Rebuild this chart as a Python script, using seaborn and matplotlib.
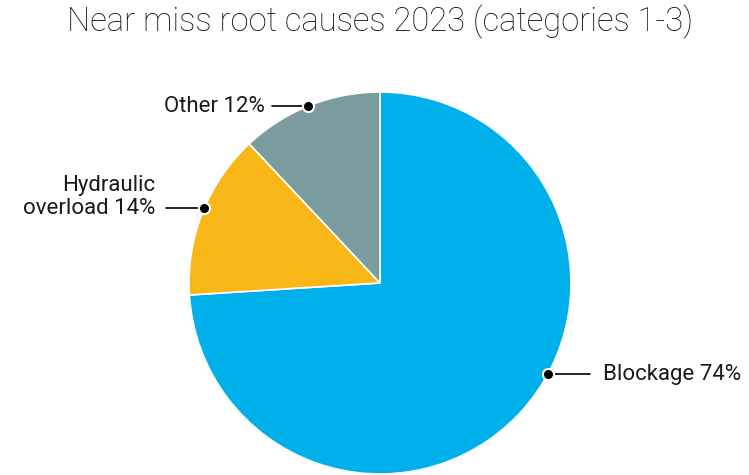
import numpy as np
import matplotlib
matplotlib.use('Agg')
from matplotlib import pyplot as plt
import seaborn as sns

sns.set_theme(style='white')
plt.rcParams['font.family'] = ['Roboto', 'DejaVu Sans']

# data
causes = ['Blockage', 'Hydraulic\noverload', 'Other']
shares = [74, 14, 12]
colors = ['#00B0EA', '#F9B617', '#7A9C9F']
# where the label leader dot sits on the rim (degrees)
label_angles = [-28.6, 156.8, 112.3]

fig = plt.figure(figsize=(7.49, 4.75), dpi=100)
ax = fig.add_axes([189/749, 1/475, 382/749, 382/475])

wedges, _ = ax.pie(shares, colors=colors, startangle=90, counterclock=False,
                   radius=1, wedgeprops=dict(edgecolor='white', linewidth=1.2))
ax.set_xlim(-1, 1)
ax.set_ylim(-1, 1)

# label layout: (line end x, text x, text y offset, ha)
layout = [(1.099, 1.167, 0.0, 'left'),
          (-1.120, -1.178, 0.058, 'right'),
          (-0.565, -0.602, 0.0, 'right')]

for name, val, ang, (lx, tx, dy, ha) in zip(causes, shares, label_angles, layout):
    a = np.deg2rad(ang)
    px, py = np.cos(a), np.sin(a)
    ax.plot([px, lx], [py, py], color='black', lw=1.2, clip_on=False, zorder=3)
    ax.plot(px, py, 'o', ms=8, mfc='black', mec='white', mew=1.5,
            clip_on=False, zorder=4)
    ax.text(tx, py + dy, f'{name} {val}%', ha=ha, va='center', fontsize=16,
            color='#1a1a1a', linespacing=1.12, multialignment='right' if ha == 'right' else 'left')

fig.text(380/749, 1 - 22/475, 'Near miss root causes 2023 (categories 1-3)',
         ha='center', va='center', fontsize=23.6, fontweight='light', color='#111111')

fig.savefig('out.png', dpi=100)
